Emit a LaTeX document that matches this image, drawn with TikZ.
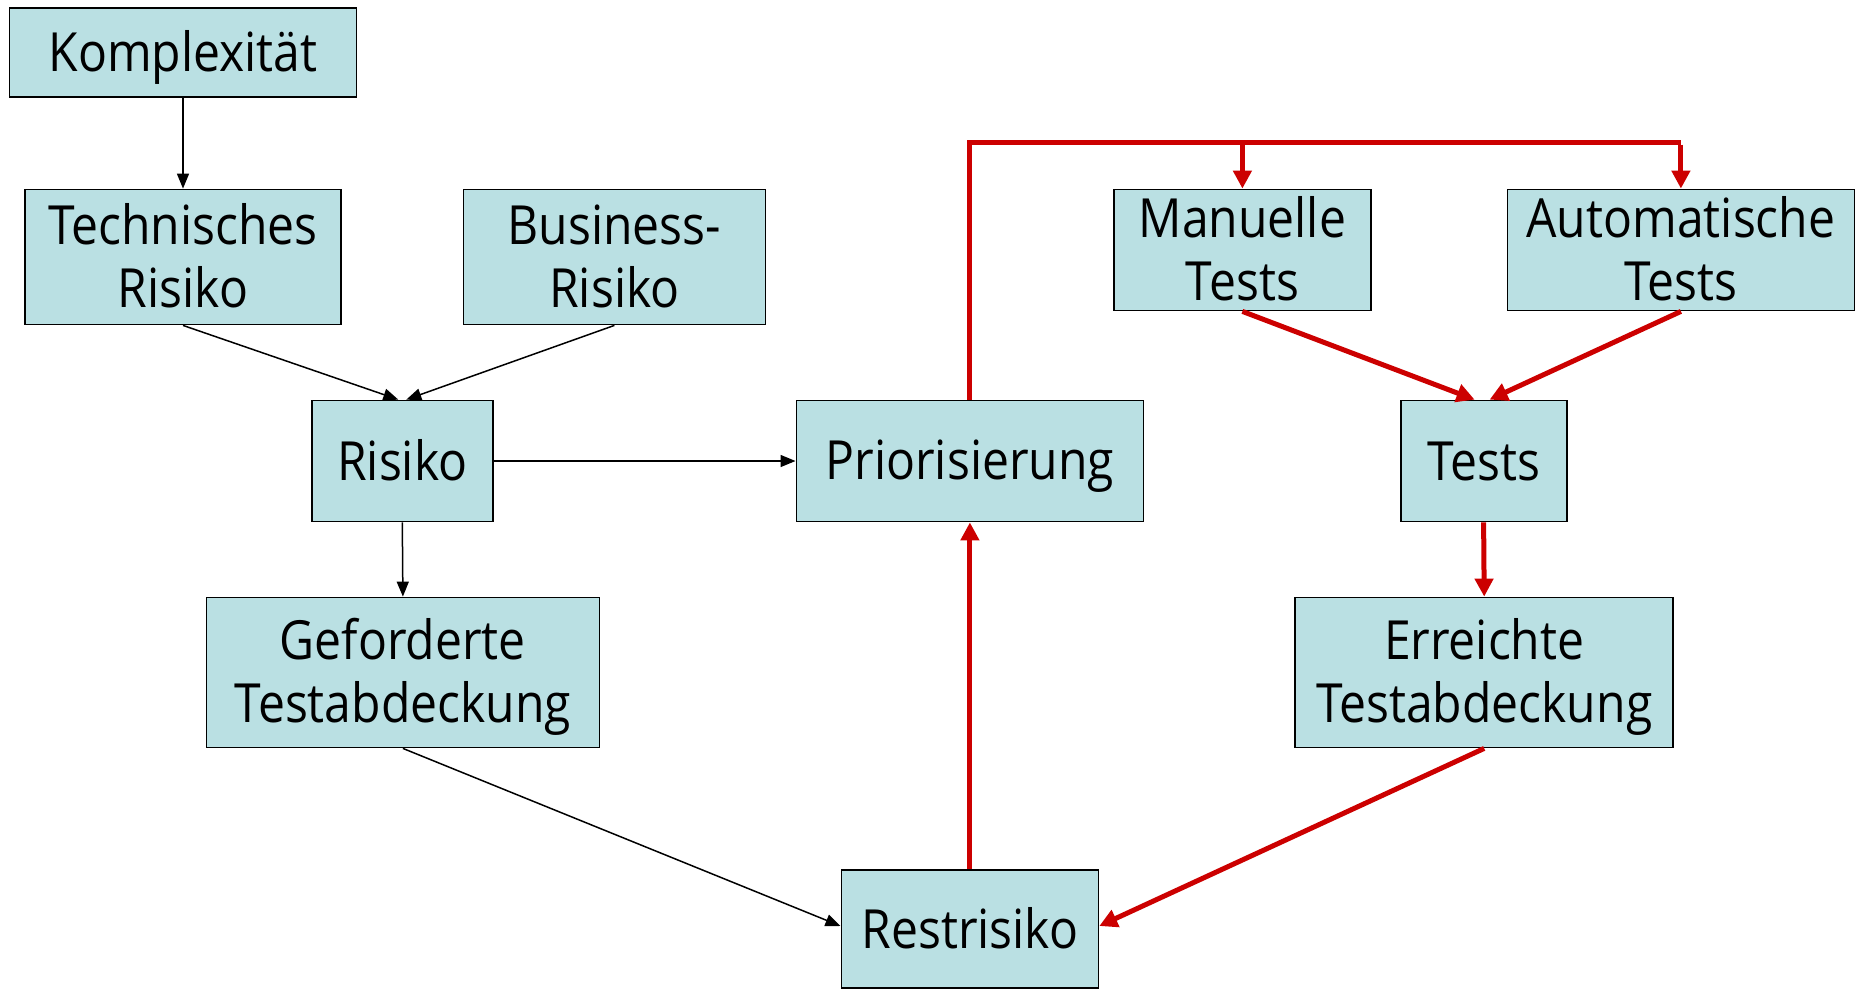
\documentclass[tikz,border=0pt]{standalone}
\usepackage{fontspec}
\setmainfont{Open Sans}[FakeStretch=0.89]
\usetikzlibrary{arrows.meta,calc}
\definecolor{boxfill}{HTML}{BAE0E3}
\definecolor{redline}{HTML}{CC0000}
\newcommand\lnstrut{\rule[-6pt]{0pt}{31pt}}
\newcommand\lnstrutb{\rule[-5pt]{0pt}{29pt}}
\begin{document}
\begin{tikzpicture}[x=0.5pt,y=-0.5pt,
  box/.style={draw=black,line width=0.9pt,fill=boxfill,inner sep=0pt,align=center,
    font=\fontsize{27pt}{31.5pt}\selectfont},
  blk/.style={draw=black,line width=0.75pt,-{Triangle[length=7.5pt,width=6pt]}},
  red/.style={draw=redline,line width=2.5pt,-{Triangle[length=9pt,width=9pt]}},
  redplain/.style={draw=redline,line width=2.5pt}]
\useasboundingbox (0,0) rectangle (1858,991);
\node[box,minimum width=173.5pt,minimum height=44.5pt] (kom) at (183,52.7) {\lnstrut Komplexität};
\node[box,minimum width=158pt,minimum height=67.5pt] (tech) at (183,257) {\lnstrut Technisches\\\lnstrut Risiko};
\node[box,minimum width=151pt,minimum height=67.5pt] (bus) at (614.4,257) {\lnstrut Business-\\\lnstrut Risiko};
\node[box,minimum width=90.5pt,minimum height=60.5pt] (risk) at (402.3,461) {\lnstrut Risiko};
\node[box,minimum width=173.5pt,minimum height=60.5pt] (prio) at (969.9,461) {\lnstrut Priorisierung};
\node[box,minimum width=128.5pt,minimum height=60.5pt] (man) at (1242.4,250) {\lnstrutb Manuelle\\\lnstrutb Tests};
\node[box,minimum width=173.5pt,minimum height=60.5pt] (auto) at (1680.9,250) {\lnstrutb Automatische\\\lnstrutb Tests};
\node[box,minimum width=83pt,minimum height=60.5pt] (tests) at (1483.6,461) {\lnstrut Tests};
\node[box,minimum width=196.5pt,minimum height=75pt] (gef) at (402.9,672.5) {\lnstrut Geforderte\\\lnstrut Testabdeckung};
\node[box,minimum width=189pt,minimum height=75pt] (err) at (1484.2,672.5) {\lnstrut Erreichte\\\lnstrut Testabdeckung};
\node[box,minimum width=128.5pt,minimum height=59pt] (rest) at (969.9,929) {\lnstrut Restrisiko};
% black connectors
\draw[blk] (kom.south) -- (tech.north);
\draw[blk] (tech.south) -- ($(risk.north)+(-4,0)$);
\draw[blk] (bus.south) -- ($(risk.north)+(4,0)$);
\draw[blk] (risk.east) -- (prio.west);
\draw[blk] (risk.south) -- (gef.north);
\draw[blk] (gef.south) -- ($(rest.west)+(0,-3)$);
% red connectors
\coordinate (topL) at (prio.north |- 0,142);
\coordinate (topM) at (man.north |- 0,142);
\coordinate (topR) at (auto.north |- 0,142);
\draw[redplain,line join=miter] (prio.north) -- (topL) -- (topR);
\draw[red] ($(topR)+(0,-1.25pt)$) -- (auto.north);
\draw[red] (topM) -- (man.north);
\draw[red] (man.south) -- ($(tests.north)+(-9,0)$);
\draw[red] (auto.south) -- ($(tests.north)+(6,0)$);
\draw[red] (tests.south) -- (err.north);
\draw[red] (err.south) -- ($(rest.east)+(0,-3)$);
\draw[red] (rest.north) -- (prio.south);
\end{tikzpicture}
\end{document}
